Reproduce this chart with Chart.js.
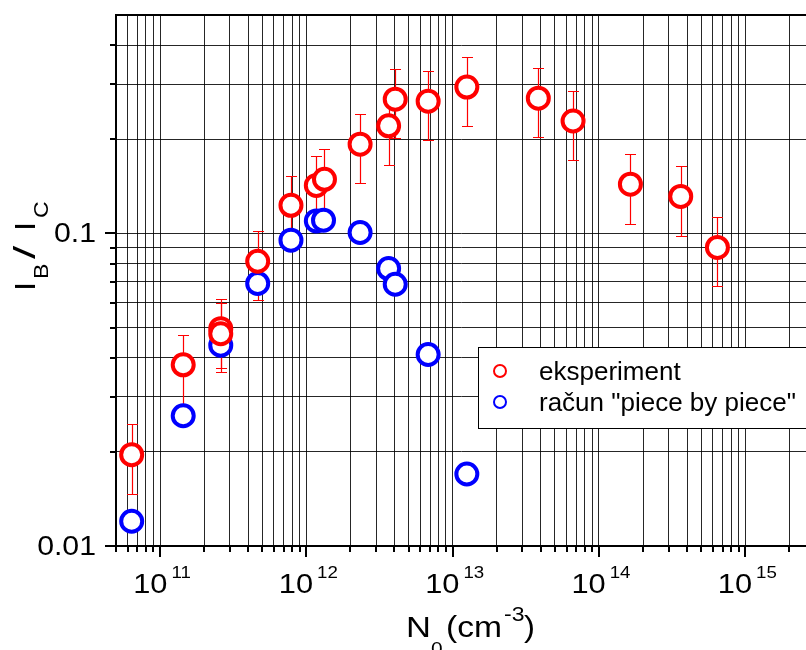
<!DOCTYPE html>
<html>
<head>
<meta charset="utf-8">
<script src="https://cdn.jsdelivr.net/npm/chart.js@4.4.0/dist/chart.umd.min.js"></script>
<style>
  html, body { margin: 0; padding: 0; background: #fff; overflow: hidden; }
  #wrap { width: 806px; height: 650px; position: relative; }
</style>
</head>
<body>
<div id="wrap"><canvas id="ratioChart"></canvas></div>
<script>
// measured ratio I_B / I_C versus density N0 (cm^-3)
const expN0   = [6.4e10, 1.44e11, 2.6e11, 2.6e11, 4.65e11, 7.85e11, 1.17e12, 1.33e12, 2.33e12,
                 3.65e12, 4.05e12, 6.8e12, 1.25e13, 3.85e13, 6.65e13, 1.64e14, 3.62e14, 6.45e14];
const expRatio = [0.0196, 0.038, 0.0496, 0.0478, 0.0815, 0.123, 0.1425, 0.149, 0.193,
                  0.221, 0.269, 0.265, 0.294, 0.271, 0.229, 0.1438, 0.1314, 0.0902];
const expLow  = [0.0147, 0.0278, 0.0372, 0.0360, 0.0611, 0.0931, 0.108, 0.112, 0.1445,
                 0.1658, 0.2025, 0.1985, 0.2207, 0.2034, 0.1713, 0.1076, 0.0985, 0.0678];
const expHigh = [0.0245, 0.0474, 0.0619, 0.0600, 0.1019, 0.1527, 0.1772, 0.1858, 0.2404,
                 0.2757, 0.3359, 0.330, 0.3668, 0.3383, 0.2861, 0.1794, 0.1642, 0.1128];

// "piece by piece" calculation
const calcN0    = [6.4e10, 1.44e11, 2.6e11, 4.65e11, 7.85e11, 1.17e12, 1.31e12, 2.33e12,
                   3.65e12, 4.05e12, 6.8e12, 1.25e13];
const calcRatio = [0.0120, 0.0261, 0.0439, 0.0692, 0.0952, 0.1097, 0.1103, 0.1007,
                   0.0772, 0.0688, 0.0410, 0.0170];

const xDecades = [11, 12, 13, 14, 15];
const yLabels = ["0.01", "0.1"];
const legendLabels = ["eksperiment", "račun \"piece by piece\""];

const X_MIN = 5e10, X_MAX = 2.6e15;
const Y_MIN = 0.01, Y_MAX = 0.5;

const FONT = "'Liberation Sans', Arial, Helvetica, sans-serif";
const RED = "#ff0000";
const BLUE = "#0000ff";

// every 1..9 x 10^n value inside [min, max]
function logTicks(min, max) {
  const out = [];
  for (let e = Math.floor(Math.log10(min)); e <= Math.ceil(Math.log10(max)); e++) {
    for (let m = 1; m < 10; m++) {
      const v = m * Math.pow(10, e);
      if (v >= min * 0.999 && v <= max * 1.001) out.push(v);
    }
  }
  return out;
}
function isDecade(v) {
  const l = Math.log10(v);
  return Math.abs(l - Math.round(l)) < 1e-6;
}

// text drawn a bit wider than the font's natural width
function wideText(ctx, txt, x, y, px, sx) {
  ctx.save();
  ctx.font = px + "px " + FONT;
  ctx.translate(x, y);
  ctx.scale(sx, 1);
  ctx.fillText(txt, 0, 0);
  const w = ctx.measureText(txt).width * sx;
  ctx.restore();
  return w;
}

const errorBars = {
  id: "errorBars",
  beforeDatasetsDraw(chart) {
    const ctx = chart.ctx, xs = chart.scales.x, ys = chart.scales.y;
    ctx.save();
    ctx.strokeStyle = RED;
    ctx.lineWidth = 1.2;
    expN0.forEach((n, i) => {
      const px = Math.round(xs.getPixelForValue(n)) + 0.5;
      const top = Math.round(ys.getPixelForValue(expHigh[i])) + 0.5;
      const bot = Math.round(ys.getPixelForValue(expLow[i])) + 0.5;
      ctx.beginPath();
      ctx.moveTo(px, top); ctx.lineTo(px, bot);
      ctx.moveTo(px - 5.5, top); ctx.lineTo(px + 5.5, top);
      ctx.moveTo(px - 5.5, bot); ctx.lineTo(px + 5.5, bot);
      ctx.stroke();
    });
    ctx.restore();
  }
};

const axisDecor = {
  id: "axisDecor",
  afterDraw(chart) {
    const ctx = chart.ctx, xs = chart.scales.x, ys = chart.scales.y;
    const a = chart.chartArea;
    ctx.save();
    ctx.strokeStyle = "#000";
    ctx.fillStyle = "#000";

    // top frame line
    ctx.lineWidth = 2;
    ctx.beginPath();
    ctx.moveTo(a.left - 1, a.top); ctx.lineTo(a.right, a.top);
    ctx.stroke();

    // outward tick marks
    ctx.lineWidth = 2;
    xs.ticks.forEach(t => {
      const px = Math.round(xs.getPixelForValue(t.value));
      const len = isDecade(t.value) ? 11 : 6;
      ctx.beginPath();
      ctx.moveTo(px, a.bottom); ctx.lineTo(px, a.bottom + len);
      ctx.stroke();
    });
    ys.ticks.forEach(t => {
      if (t.value >= ys.max * 0.999) return;
      const py = Math.round(ys.getPixelForValue(t.value));
      const len = isDecade(t.value) ? 11 : 6;
      ctx.beginPath();
      ctx.moveTo(a.left - len, py); ctx.lineTo(a.left, py);
      ctx.stroke();
    });

    // y tick labels, right aligned
    ctx.textBaseline = "alphabetic";
    ctx.textAlign = "left";
    yLabels.forEach(lbl => {
      const py = ys.getPixelForValue(parseFloat(lbl));
      ctx.font = "28px " + FONT;
      const w = ctx.measureText(lbl).width * 1.08;
      wideText(ctx, lbl, a.left - 20 - w, py + 9, 28, 1.08);
    });

    // x tick labels 10^n
    xDecades.forEach(e => {
      const px = xs.getPixelForValue(Math.pow(10, e));
      ctx.font = "28px " + FONT;
      const wBase = ctx.measureText("10").width * 1.1;
      ctx.font = "17px " + FONT;
      const wExp = ctx.measureText(String(e)).width * 1.1;
      const left = px + 2 - (wBase + 4 + wExp) / 2;
      wideText(ctx, "10", left, a.bottom + 47, 28, 1.1);
      wideText(ctx, String(e), left + wBase + 4, a.bottom + 32, 17, 1.1);
    });

    // x axis title: N0 (cm-3)
    wideText(ctx, "N", 406, 637, 30, 1.15);
    wideText(ctx, "0", 431, 655, 19, 1.1);
    wideText(ctx, "(cm", 446, 637, 30, 1.12);
    wideText(ctx, "-3", 504, 621, 20, 1.15);
    wideText(ctx, ")", 524, 637, 30, 1.1);

    // y axis title: IB / IC, rotated
    ctx.save();
    ctx.translate(0, 292);
    ctx.rotate(-Math.PI / 2);
    wideText(ctx, "I", 1, 35, 30, 1.1);
    wideText(ctx, "B", 13, 48, 21, 1.1);
    wideText(ctx, "/", 33, 35, 30, 1.6);
    wideText(ctx, "I", 61, 35, 30, 1.1);
    wideText(ctx, "C", 74, 48, 21, 1.1);
    ctx.restore();

    // legend box
    const lx = 478, ly = 347, lw = 330, lh = 81;
    ctx.fillStyle = "#fff";
    ctx.fillRect(lx, ly, lw, lh);
    ctx.lineWidth = 1;
    ctx.strokeStyle = "#000";
    ctx.strokeRect(lx + 0.5, ly + 0.5, lw, lh);
    const colors = [RED, BLUE];
    legendLabels.forEach((lbl, i) => {
      const cy = 371 + i * 31;
      ctx.beginPath();
      ctx.arc(500, cy, 6, 0, Math.PI * 2);
      ctx.strokeStyle = colors[i];
      ctx.lineWidth = 2;
      ctx.stroke();
      ctx.fillStyle = "#000";
      ctx.font = "26px " + FONT;
      ctx.fillText(lbl, 539, cy + 9);
    });
    ctx.restore();
  }
};

const toPoints = (xsArr, ysArr) => xsArr.map((x, i) => ({ x: x, y: ysArr[i] }));

// keep the axis range fixed, whatever ticks the scale generated
function fixRange(min, max) {
  return s => {
    s.ticks = logTicks(min, max).map(v => ({ value: v }));
    s.min = min;
    s.max = max;
  };
}

new Chart(document.getElementById("ratioChart").getContext("2d"), {
  type: "scatter",
  data: {
    datasets: [
      {
        label: legendLabels[0],
        data: toPoints(expN0, expRatio),
        borderColor: RED,
        backgroundColor: "#fff",
        borderWidth: 4,
        pointRadius: 10.5,
        pointHoverRadius: 10.5
      },
      {
        label: legendLabels[1],
        data: toPoints(calcN0, calcRatio),
        borderColor: BLUE,
        backgroundColor: "#fff",
        borderWidth: 4,
        pointRadius: 10.5,
        pointHoverRadius: 10.5
      }
    ]
  },
  options: {
    responsive: true,
    maintainAspectRatio: false,
    animation: false,
    layout: { autoPadding: false, padding: { top: 15, left: 0, right: 0, bottom: 0 } },
    plugins: {
      legend: { display: false },
      tooltip: { enabled: false }
    },
    scales: {
      x: {
        type: "logarithmic",
        position: "bottom",
        bounds: "data",
        min: X_MIN,
        max: X_MAX,
        afterBuildTicks: fixRange(X_MIN, X_MAX),
        afterFit: s => { s.height = 104; },
        ticks: { display: false },
        grid: { color: "rgba(0,0,0,0.85)", lineWidth: 1, drawTicks: false },
        border: { display: true, color: "#000", width: 2 }
      },
      y: {
        type: "logarithmic",
        position: "left",
        bounds: "data",
        min: Y_MIN,
        max: Y_MAX,
        afterBuildTicks: fixRange(Y_MIN, Y_MAX),
        afterFit: s => { s.width = 116; },
        ticks: { display: false },
        grid: { color: "rgba(0,0,0,0.85)", lineWidth: 1, drawTicks: false },
        border: { display: true, color: "#000", width: 2 }
      }
    }
  },
  plugins: [errorBars, axisDecor]
});
</script>
</body>
</html>
